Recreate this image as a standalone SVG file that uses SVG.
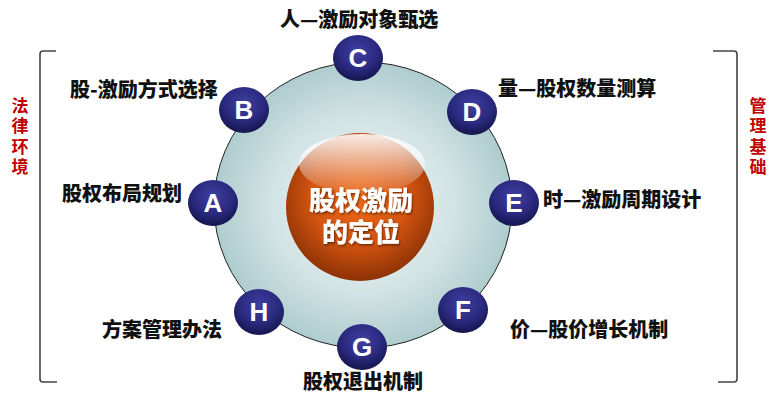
<svg xmlns="http://www.w3.org/2000/svg" width="777" height="400" viewBox="0 0 777 400">
<style>
.lbl{font-family:"Noto Sans CJK SC","Noto Sans",sans-serif;font-weight:900;font-size:20px;fill:#111}
.side{font-family:"Noto Sans CJK SC","Noto Sans",sans-serif;font-weight:700;font-size:17px;fill:#c00000;writing-mode:vertical-rl;letter-spacing:3.5px}
.let{font-family:"Liberation Sans",Arial,sans-serif;font-weight:700;font-size:26px;fill:#fff;text-anchor:middle}
.ball{fill:url(#gBall)}
.ctr{font-family:"Noto Sans CJK SC","Noto Sans",sans-serif;font-weight:900;font-size:26px;fill:#fff;text-anchor:middle}
.br{fill:none;stroke:#444;stroke-width:1.6}
</style>
<defs>
<radialGradient id="gBig" cx="50%" cy="50%" r="50%">
<stop offset="0" stop-color="#eef4f4"/>
<stop offset="0.6" stop-color="#d3e4e5"/>
<stop offset="1" stop-color="#aecccf"/>
</radialGradient>
<radialGradient id="gBall" cx="50%" cy="35%" r="65%">
<stop offset="0" stop-color="#3f3fa0"/>
<stop offset="0.6" stop-color="#2a2a80"/>
<stop offset="1" stop-color="#15154d"/>
</radialGradient>
<radialGradient id="gOr" cx="50%" cy="42%" r="60%">
<stop offset="0" stop-color="#f06a18"/>
<stop offset="0.55" stop-color="#d45410"/>
<stop offset="1" stop-color="#873005"/>
</radialGradient>
<linearGradient id="gGloss" x1="0" y1="0" x2="0" y2="1">
<stop offset="0" stop-color="#fff" stop-opacity="0.9"/>
<stop offset="1" stop-color="#fff" stop-opacity="0.05"/>
</linearGradient>
<filter id="sh" x="-10%" y="-10%" width="130%" height="130%">
<feDropShadow dx="1" dy="1.5" stdDeviation="0.8" flood-color="#000" flood-opacity="0.5"/>
</filter>
</defs>
<rect width="777" height="400" fill="#fff"/>
<g id="connectors">
<path class="br" d="M56 51 H43 Q40 51 40 54 V379 Q40 382 43 382 H57"/>
<path class="br" d="M713 51 H734 Q737 51 737 54 V379 Q737 382 734 382 H718"/>
</g>
<g id="legal">
<text class="side" x="20" y="97">法律环境</text>
</g>
<g id="mgmt">
<text class="side" x="758" y="97">管理基础</text>
</g>
<g id="ring">
<ellipse cx="363" cy="205" rx="149" ry="143" fill="url(#gBig)" stroke="#222" stroke-width="1"/>
</g>
<g id="center">
<circle cx="360" cy="207" r="74" fill="url(#gOr)"/>
<ellipse cx="362" cy="164" rx="63" ry="30" fill="url(#gGloss)"/>
<text class="ctr" filter="url(#sh)"><tspan x="361" y="210">股权激励</tspan><tspan x="361" y="242">的定位</tspan></text>
</g>
<g id="nodeC"><ellipse class="ball" cx="358" cy="58" rx="25" ry="23"/><text class="let" x="358" y="67">C</text><text class="lbl" x="280" y="27">人—激励对象甄选</text></g>
<g id="nodeB"><ellipse class="ball" cx="244" cy="110" rx="25" ry="23"/><text class="let" x="244" y="119">B</text><text class="lbl" x="70" y="97">股-激励方式选择</text></g>
<g id="nodeD"><ellipse class="ball" cx="472" cy="112" rx="25" ry="23"/><text class="let" x="472" y="121">D</text><text class="lbl" x="498" y="96">量—股权数量测算</text></g>
<g id="nodeA"><ellipse class="ball" cx="213" cy="203" rx="25" ry="23"/><text class="let" x="213" y="212">A</text><text class="lbl" x="62" y="201">股权布局规划</text></g>
<g id="nodeE"><ellipse class="ball" cx="514" cy="203" rx="25" ry="23"/><text class="let" x="514" y="212">E</text><text class="lbl" x="543" y="207">时—激励周期设计</text></g>
<g id="nodeH"><ellipse class="ball" cx="259" cy="312" rx="25" ry="23"/><text class="let" x="259" y="321">H</text><text class="lbl" x="102" y="337">方案管理办法</text></g>
<g id="nodeF"><ellipse class="ball" cx="463" cy="310" rx="25" ry="23"/><text class="let" x="463" y="319">F</text><text class="lbl" x="510" y="337">价—股价增长机制</text></g>
<g id="nodeG"><ellipse class="ball" cx="362" cy="347" rx="25" ry="23"/><text class="let" x="362" y="356">G</text><text class="lbl" x="303" y="389">股权退出机制</text></g>
</svg>
